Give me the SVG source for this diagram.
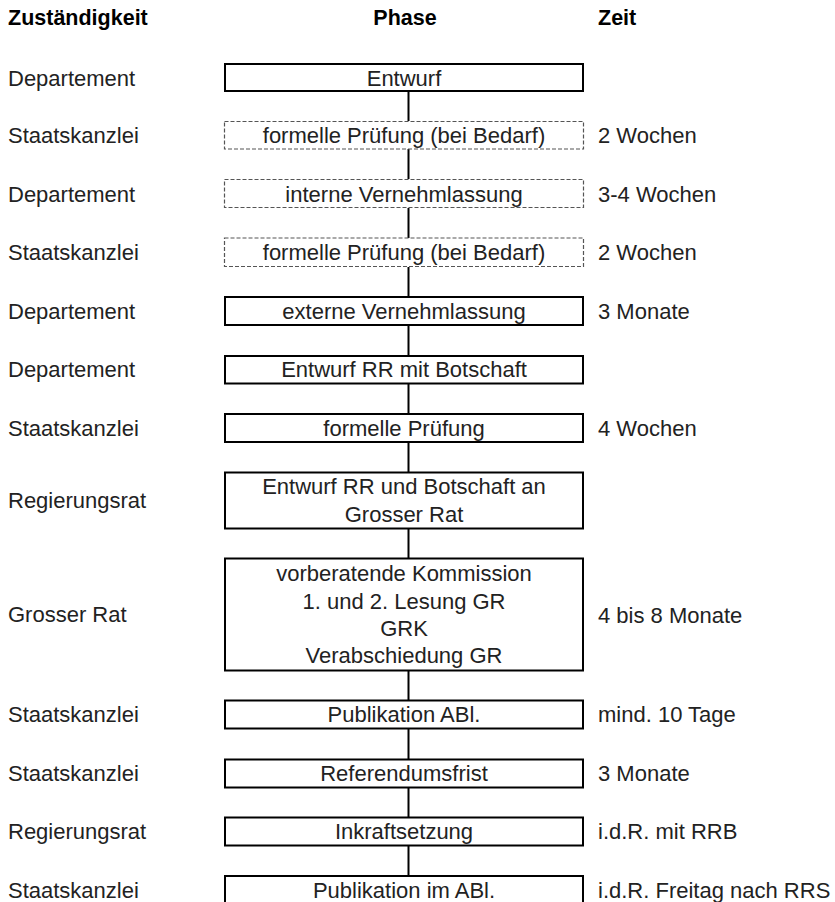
<svg xmlns="http://www.w3.org/2000/svg" width="835" height="902" viewBox="0 0 835 902">
<style>
text{font-family:"Liberation Sans",Arial,sans-serif;font-size:22px;fill:#222}
.h{font-weight:bold;fill:#000;font-size:21.5px}
.c{text-anchor:middle}
.box{fill:#fff;stroke:#000;stroke-width:2}
.dash{fill:#fff;stroke:#555;stroke-width:1.2;stroke-dasharray:4 2}
.con line{stroke:#000;stroke-width:2}
</style>
<rect width="835" height="902" fill="#fff"/>
<g id="header">
<text class="h" x="8" y="25">Zuständigkeit</text>
<text class="h c" x="405" y="25">Phase</text>
<text class="h" x="598" y="25">Zeit</text>
</g>
<g id="connectors" class="con">
<line x1="408.5" y1="92" x2="408.5" y2="121"/>
<line x1="408.5" y1="149" x2="408.5" y2="179"/>
<line x1="408.5" y1="208" x2="408.5" y2="238"/>
<line x1="408.5" y1="267" x2="408.5" y2="296"/>
<line x1="408.5" y1="326" x2="408.5" y2="355"/>
<line x1="408.5" y1="384" x2="408.5" y2="413"/>
<line x1="408.5" y1="443" x2="408.5" y2="472"/>
<line x1="408.5" y1="529" x2="408.5" y2="558"/>
<line x1="408.5" y1="671" x2="408.5" y2="700"/>
<line x1="408.5" y1="729" x2="408.5" y2="759"/>
<line x1="408.5" y1="788" x2="408.5" y2="817"/>
<line x1="408.5" y1="846" x2="408.5" y2="875"/>
</g>
<g id="n1"><text x="8" y="85.5">Departement</text><rect class="box" x="225" y="64" width="358" height="27"/><text class="c" x="404" y="85.5">Entwurf</text></g>
<g id="n2"><text x="8" y="143">Staatskanzlei</text><rect class="dash" x="224.5" y="121.5" width="359" height="27.5"/><text class="c" x="404" y="143">formelle Prüfung (bei Bedarf)</text><text x="598" y="143">2 Wochen</text></g>
<g id="n3"><text x="8" y="201.5">Departement</text><rect class="dash" x="224.5" y="179.5" width="359" height="28"/><text class="c" x="404" y="201.5">interne Vernehmlassung</text><text x="598" y="201.5">3-4 Wochen</text></g>
<g id="n4"><text x="8" y="260">Staatskanzlei</text><rect class="dash" x="224.5" y="238" width="359" height="28.5"/><text class="c" x="404" y="260">formelle Prüfung (bei Bedarf)</text><text x="598" y="260">2 Wochen</text></g>
<g id="n5"><text x="8" y="318.5">Departement</text><rect class="box" x="225" y="297" width="358" height="28"/><text class="c" x="404" y="318.5">externe Vernehmlassung</text><text x="598" y="318.5">3 Monate</text></g>
<g id="n6"><text x="8" y="377">Departement</text><rect class="box" x="225" y="356" width="358" height="27.5"/><text class="c" x="404" y="377">Entwurf RR mit Botschaft</text></g>
<g id="n7"><text x="8" y="435.5">Staatskanzlei</text><rect class="box" x="225" y="414" width="358" height="28"/><text class="c" x="404" y="435.5">formelle Prüfung</text><text x="598" y="435.5">4 Wochen</text></g>
<g id="n8"><text x="8" y="508">Regierungsrat</text><rect class="box" x="225" y="472.5" width="358" height="56"/><text class="c" x="404" y="494">Entwurf RR und Botschaft an</text><text class="c" x="404" y="521.5">Grosser Rat</text></g>
<g id="n9"><text x="8" y="622">Grosser Rat</text><rect class="box" x="225" y="558.5" width="358" height="112"/><text class="c" x="404" y="581">vorberatende Kommission</text><text class="c" x="404" y="608.5">1. und 2. Lesung GR</text><text class="c" x="404" y="636">GRK</text><text class="c" x="404" y="663">Verabschiedung GR</text><text x="598" y="623">4 bis 8 Monate</text></g>
<g id="n10"><text x="8" y="722">Staatskanzlei</text><rect class="box" x="225" y="700.5" width="358" height="28"/><text class="c" x="404" y="722">Publikation ABl.</text><text x="598" y="722">mind. 10 Tage</text></g>
<g id="n11"><text x="8" y="781">Staatskanzlei</text><rect class="box" x="225" y="759.5" width="358" height="28"/><text class="c" x="404" y="781">Referendumsfrist</text><text x="598" y="781">3 Monate</text></g>
<g id="n12"><text x="8" y="839">Regierungsrat</text><rect class="box" x="225" y="817.5" width="358" height="28"/><text class="c" x="404" y="839">Inkraftsetzung</text><text x="598" y="839">i.d.R. mit RRB</text></g>
<g id="n13"><text x="8" y="897.5">Staatskanzlei</text><rect class="box" x="225" y="876" width="358" height="40"/><text class="c" x="404" y="897.5">Publikation im ABl.</text><text x="598" y="897.5">i.d.R. Freitag nach RRS</text></g>
</svg>
